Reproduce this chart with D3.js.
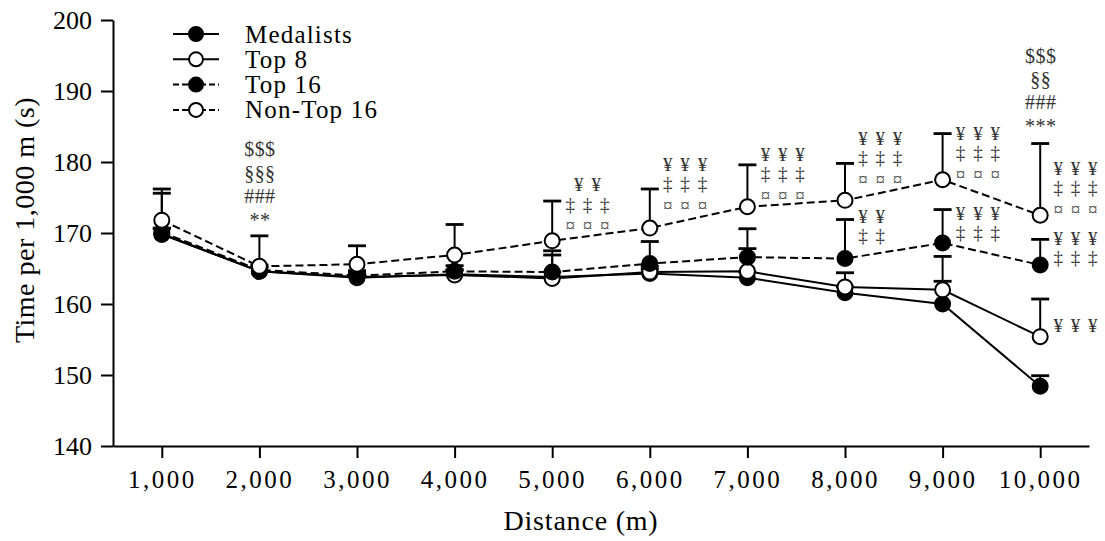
<!DOCTYPE html>
<html><head><meta charset="utf-8">
<script src="https://cdn.jsdelivr.net/npm/d3@7"></script>
<style>
body{margin:0;background:#fff}
svg{display:block}
svg text{font-family:"Liberation Serif",Tinos,"Times New Roman",Times,serif}
</style>
</head><body>
<svg id="c" width="1105" height="541"></svg>
<script>
// ---------- data ----------
const distances = [1000,2000,3000,4000,5000,6000,7000,8000,9000,10000];
const xTickLabels = ["1,000","2,000","3,000","4,000","5,000","6,000","7,000","8,000","9,000","10,000"];
const yTicks = [140,150,160,170,180,190,200];
const seriesNames = ["Medalists","Top 8","Top 16","Non-Top 16"];

const medalists   = [169.8,164.6,163.7,164.2,163.8,164.3,163.7,161.6,160.0,148.4];
const medalistsSD = [0.8,0.6,0.6,0.6,0.7,0.6,0.8,0.8,3.2,1.5];
const top8        = [169.9,164.6,163.8,164.1,163.6,164.5,164.6,162.4,162.0,155.4];
const top8SD      = [0.8,0.6,0.6,0.7,3.3,0.8,3.2,2.0,4.7,5.3];
const top16       = [170.1,164.8,164.0,164.6,164.5,165.7,166.6,166.4,168.6,165.5];
const top16SD     = [5.5,0.7,0.7,0.8,3.0,3.1,4.0,5.5,4.7,3.6];
const nonTop16    = [171.8,165.3,165.6,166.9,168.9,170.7,173.7,174.6,177.5,172.5];
const nonTop16SD  = [4.4,4.3,2.6,4.3,5.6,5.5,5.9,5.2,6.5,10.1];

// stacked significance labels above the points
const topAnnoX    = [2000,10000];
const topAnnoBase = [170.9,184.1];
const topAnnoRows = [["$$$","§§§","###","**"],["$$$","§§","###","***"]];

// significance groups to the right of points
const grpX    = [5000,6000,7000,8000,9000,10000,8000,9000,10000,10000];
const grpTop  = [176.76,179.58,180.99,183.34,184.04,179.11,172.30,172.77,169.25,156.9];
const grpRows = [
  ["¥¥","‡‡‡","¤¤¤"],["¥¥¥","‡‡‡","¤¤¤"],["¥¥¥","‡‡‡","¤¤¤"],
  ["¥¥¥","‡‡‡","¤¤¤"],["¥¥¥","‡‡‡","¤¤¤"],["¥¥¥","‡‡‡","¤¤¤"],
  ["¥¥","‡‡"],["¥¥¥","‡‡‡"],["¥¥¥","‡‡‡"],
  ["¥¥¥"]
];

// ---------- chart ----------
const svg = d3.select("#c");
const x = d3.scaleLinear().domain([500,10500]).range([113,1089]);
const y = d3.scaleLinear().domain([140,200]).range([446,20]);

const series = [
  {name:seriesNames[0], v:medalists, sd:medalistsSD, fill:"#000", dash:null},
  {name:seriesNames[1], v:top8,      sd:top8SD,      fill:"#fff", dash:null},
  {name:seriesNames[2], v:top16,     sd:top16SD,     fill:"#000", dash:"8,4"},
  {name:seriesNames[3], v:nonTop16,  sd:nonTop16SD,  fill:"#fff", dash:"8,4"}
];

// axes
const yAxis = svg.append("g").attr("transform","translate(113,0)")
  .call(d3.axisLeft(y).tickValues(yTicks).tickFormat(d3.format("d")).tickSize(12).tickSizeOuter(0).tickPadding(9));
const xAxis = svg.append("g").attr("transform","translate(0,446)")
  .call(d3.axisBottom(x).tickValues(distances).tickFormat((d,i)=>xTickLabels[i]).tickSize(12).tickSizeOuter(0).tickPadding(12));
[yAxis,xAxis].forEach(g=>{
  g.attr("font-family",null).attr("font-size",null);
  g.select(".domain").attr("stroke","#000").attr("stroke-width",2);
  g.selectAll(".tick line").attr("stroke","#000").attr("stroke-width",2);
  g.selectAll(".tick text").attr("fill","#000");
});
yAxis.selectAll(".tick text").style("font-size","26px");
xAxis.selectAll(".tick text").style("font-size","25px").style("letter-spacing","2.5px");

svg.append("text").attr("x",581).attr("y",530).attr("text-anchor","middle")
  .style("font-size","28px").style("letter-spacing","0.8px").text("Distance (m)");
svg.append("text").attr("transform","translate(34,220) rotate(-90)").attr("text-anchor","middle")
  .style("font-size","28px").style("letter-spacing","0.5px").text("Time per 1,000 m (s)");

// series
const line = d3.line().x((d,i)=>x(distances[i])).y(d=>y(d));
series.forEach(s=>{
  const g = svg.append("g");
  s.v.forEach((v,i)=>{
    const cx = x(distances[i]), y0 = y(v), y1 = y(v + s.sd[i]);
    g.append("line").attr("x1",cx).attr("x2",cx).attr("y1",y0).attr("y2",y1).attr("stroke","#000").attr("stroke-width",2);
    g.append("line").attr("x1",cx-9).attr("x2",cx+9).attr("y1",y1).attr("y2",y1).attr("stroke","#000").attr("stroke-width",2.8);
  });
  g.append("path").attr("d",line(s.v)).attr("fill","none").attr("stroke","#000").attr("stroke-width",2)
    .attr("stroke-dasharray",s.dash);
  g.selectAll("circle").data(s.v).join("circle")
    .attr("cx",(d,i)=>x(distances[i])).attr("cy",d=>y(d)).attr("r",7.5)
    .attr("fill",s.fill).attr("stroke","#000").attr("stroke-width",2);
});

// top stacked annotations
topAnnoX.forEach((d,k)=>{
  const rows = topAnnoRows[k];
  const base = y(topAnnoBase[k]);
  rows.forEach((r,j)=>{
    svg.append("text").attr("x",x(d)+0.5).attr("y",base-(rows.length-1-j)*23.4)
      .attr("text-anchor","middle").attr("fill","#333")
      .style("font-size","20px").style("letter-spacing","0.4px").text(r);
  });
});

// right-side groups
const rowBase = [6.3,25.5,47.3];
grpX.forEach((d,k)=>{
  const rows = grpRows[k];
  const W = d3.max(rows, r=>Array.from(r).length);
  rows.forEach((r,j)=>{
    const chars = Array.from(r);
    const start = (W - chars.length)/2;
    chars.forEach((c,m)=>{
      svg.append("text").attr("x",x(d)+18+(start+m)*17.3).attr("y",y(grpTop[k])+rowBase[j])
        .attr("text-anchor","middle").attr("fill",c==="¤"?"#4a4a4a":"#333")
        .style("font-size","19px").text(c);
    });
  });
});

// legend
const leg = svg.append("g");
series.forEach((s,i)=>{
  const cy = 34 + i*25.3;
  leg.append("line").attr("x1",173).attr("x2",219).attr("y1",cy).attr("y2",cy)
    .attr("stroke","#000").attr("stroke-width",2).attr("stroke-dasharray",s.dash?"6,3":null);
  leg.append("circle").attr("cx",196).attr("cy",cy).attr("r",7).attr("fill",s.fill)
    .attr("stroke","#000").attr("stroke-width",2);
  leg.append("text").attr("x",245).attr("y",cy+8.5).style("font-size","25px")
    .style("letter-spacing","1.2px").text(s.name);
});
</script>
</body></html>
